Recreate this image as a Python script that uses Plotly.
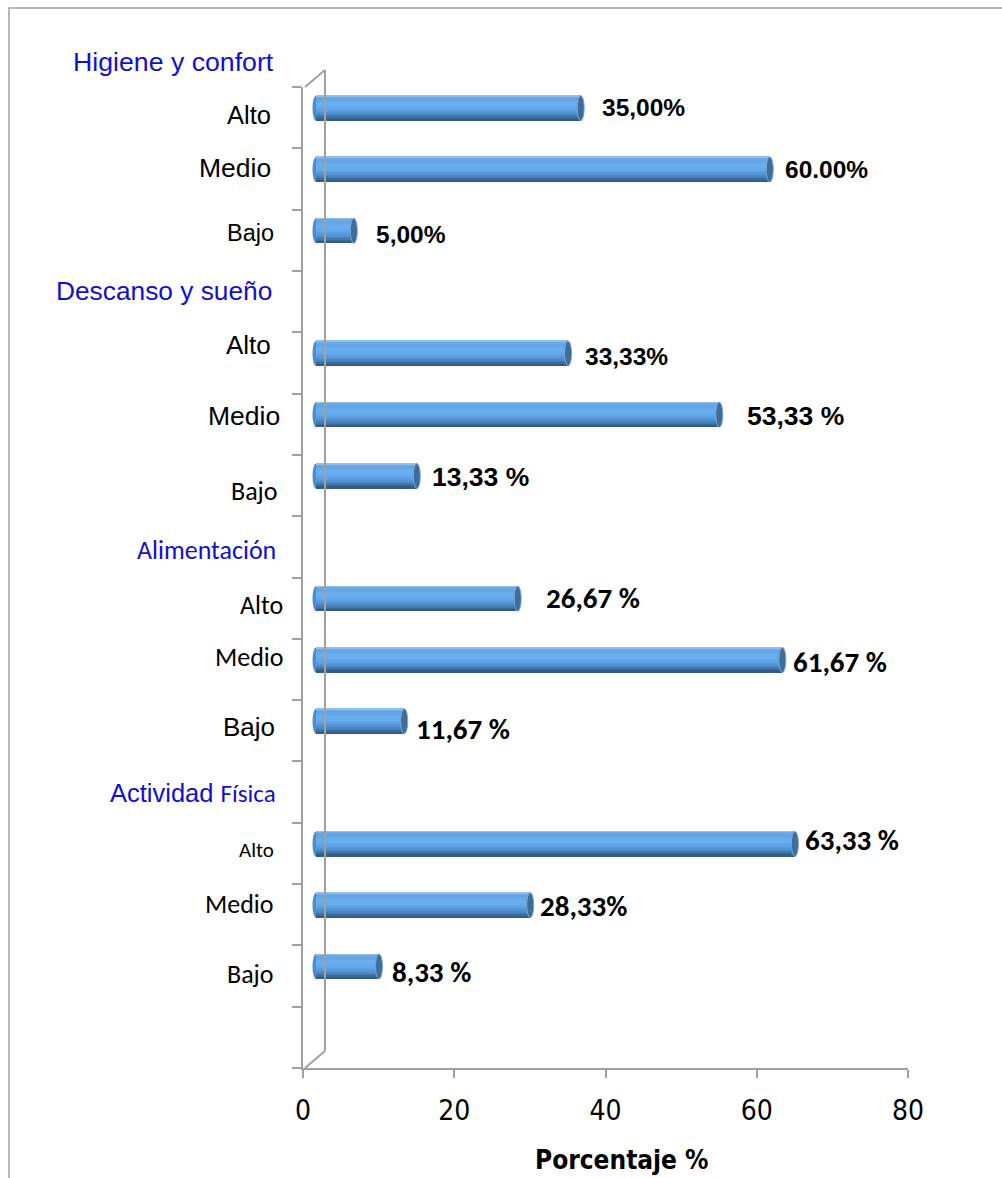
import plotly.graph_objects as go
import numpy as np

# ---------------- data ----------------
groups = ["Higiene y confort", "Descanso y sueño", "Alimentación", "Actividad Física"]
levels = ["Alto", "Medio", "Bajo"]
higiene = [35.00, 60.00, 5.00]
descanso = [33.33, 53.33, 13.33]
alimentacion = [26.67, 61.67, 11.67]
actividad = [63.33, 28.33, 8.33]
higiene_txt = ["35,00%", "60.00%", "5,00%"]
descanso_txt = ["33,33%", "53,33 %", "13,33 %"]
alimentacion_txt = ["26,67 %", "61,67 %", "11,67 %"]
actividad_txt = ["63,33 %", "28,33%", "8,33 %"]
x_ticks = [0, 20, 40, 60, 80]
x_title = "Porcentaje %"

series = [higiene, descanso, alimentacion, actividad]
series_txt = [higiene_txt, descanso_txt, alimentacion_txt, actividad_txt]

# ---------------- geometry / style ----------------
W, H = 1002, 1178
L, R, T, B = 303, 908, 87, 1068
XMAX = 80
NROWS = 16
PXX = (R - L) / XMAX
PXY = (B - T) / NROWS

def px2paper_x(px):
    return (px - L) / (R - L)

def px2paper_y(py):
    return (B - py) / (B - T)

def row_px(r):
    return T + (r + 0.5) * PXY

BASE = 13 / PXX          # 3D offset of bar start
CAP = 3.5 / PXX          # half width of elliptical cap
THICK = 25 / PXY         # bar thickness
DYC = -9.5 / PXY         # 3D vertical shift of bars

ARIAL = "Arial, Liberation Sans, sans-serif"
CALIBRI = "Carlito, Lato, sans-serif"
NARROW = "Liberation Sans Narrow, Arial Narrow, DejaVu Sans Condensed, Arial"
BLUE = "#1010CC"
GRAY = "#A0A0A0"

# category label styles per row (family, size, right edge px, dy px)
title_style = [
    (ARIAL, 26.7, 276, 6),
    (ARIAL, 26.3, 274, -11),
    (CALIBRI, 26, 278, 3),
    (ARIAL, 25.5, 278, 1),
]
level_style = [
    [(ARIAL, 25.5, 273, -3), (ARIAL, 26.5, 273, -11), (ARIAL, 23.5, 276, -7)],
    [(ARIAL, 26, 273, -18), (ARIAL, 26.5, 282, -8), (CALIBRI, 26, 280, 5)],
    [(CALIBRI, 26, 285, -3), (CALIBRI, 26, 286, -12), (ARIAL, 26, 277, -4)],
    [(CALIBRI, 21, 276, -3), (CALIBRI, 26, 276, -11), (CALIBRI, 26, 276, -2)],
]
value_font = [ARIAL, ARIAL, CALIBRI, CALIBRI]
value_size = [[24.5, 24.5, 24.5], [24.5, 26.5, 26.5], [29, 29, 29], [29, 29, 29]]
value_gap = [[16, 10, 17], [11, 22, 10], [23, 5, 6], [5, 4, 7]]
value_dy = [[-1, 0, 4], [3, 1, 1], [-1, 2, 8], [-4, 1, 5]]

# gradient stops for cylinder shading (top -> bottom)
stops = [(0.0, (160, 202, 240)), (0.12, (96, 160, 224)), (0.35, (106, 176, 240)),
         (0.55, (98, 166, 234)), (0.75, (80, 142, 207)), (0.9, (60, 108, 158)),
         (1.0, (44, 84, 125))]

def grad(t):
    for (t0, c0), (t1, c1) in zip(stops[:-1], stops[1:]):
        if t0 <= t <= t1:
            f = (t - t0) / (t1 - t0) if t1 > t0 else 0
            c = [round(a + (b - a) * f) for a, b in zip(c0, c1)]
            return "rgb(%d,%d,%d)" % tuple(c)
    return "rgb(%d,%d,%d)" % stops[-1][1]

# ---------------- build rows ----------------
rows, vals = [], []
for g, vs in enumerate(series):
    for k, v in enumerate(vs):
        rows.append(4 * g + k)
        vals.append(v)
rows = np.array(rows, dtype=float)
vals = np.array(vals, dtype=float)

fig = go.Figure()

NS = 16
w = THICK / NS
for s in range(NS):
    t = (s + 0.5) / NS
    fig.add_trace(go.Bar(
        y=rows, x=vals, base=BASE, orientation="h",
        width=w * 1.08, offset=DYC - THICK / 2 + s * w,
        marker=dict(color=grad(t), line=dict(width=0)),
        showlegend=False, hoverinfo="skip",
    ))

shapes = []
for r, v in zip(rows, vals):
    yc = r + DYC
    shapes.append(dict(type="circle", xref="x", yref="y", layer="below",
                       x0=BASE - CAP, x1=BASE + CAP, y0=yc - THICK / 2, y1=yc + THICK / 2,
                       fillcolor="rgb(80,140,200)", line=dict(width=0)))
    shapes.append(dict(type="circle", xref="x", yref="y", layer="above",
                       x0=BASE + v - CAP, x1=BASE + v + CAP, y0=yc - THICK / 2, y1=yc + THICK / 2,
                       fillcolor="rgb(62,108,155)", line=dict(width=1, color="rgb(120,165,210)")))

# 3D wall outline
wall = [((305, T), (325, T - 17)), ((325, T - 17), (325, B - 17)), ((325, B - 17), (305, B))]
for (xa, ya), (xb, yb) in wall:
    shapes.append(dict(type="line", xref="paper", yref="paper",
                       x0=px2paper_x(xa), y0=px2paper_y(ya), x1=px2paper_x(xb), y1=px2paper_y(yb),
                       line=dict(color=GRAY, width=2)))
# outer chart border
shapes.append(dict(type="rect", xref="paper", yref="paper",
                   x0=px2paper_x(9), y0=px2paper_y(8), x1=px2paper_x(1012), y1=px2paper_y(1190),
                   line=dict(color=GRAY, width=1.5), fillcolor="rgba(0,0,0,0)", layer="below"))

annotations = []
for g, name in enumerate(groups):
    fam, size, rpx, dy = title_style[g]
    text = name
    if name == "Actividad Física":
        text = 'Actividad <span style="font-family:Carlito, Lato;font-size:25px">Física</span>'
    annotations.append(dict(text=text, xref="paper", yref="paper", x=px2paper_x(rpx),
                            y=px2paper_y(row_px(4 * g - 1) + dy), xanchor="right", yanchor="middle",
                            showarrow=False, font=dict(family=fam, size=size, color=BLUE)))
    for k, lev in enumerate(levels):
        fam, size, rpx, dy = level_style[g][k]
        annotations.append(dict(text=lev, xref="paper", yref="paper", x=px2paper_x(rpx),
                                y=px2paper_y(row_px(4 * g + k) + dy), xanchor="right", yanchor="middle",
                                showarrow=False, font=dict(family=fam, size=size, color="black")))
        v = series[g][k]
        annotations.append(dict(text="<b>%s</b>" % series_txt[g][k], xref="x", yref="y",
                                x=BASE + v + CAP + value_gap[g][k] / PXX,
                                y=4 * g + k + DYC + value_dy[g][k] / PXY,
                                xanchor="left", yanchor="middle", showarrow=False,
                                font=dict(family=value_font[g], size=value_size[g][k], color="black")))

annotations.append(dict(text="<b>%s</b>" % x_title, xref="paper", yref="paper",
                        x=px2paper_x(622), y=px2paper_y(1160), xanchor="center", yanchor="middle",
                        showarrow=False,
                        font=dict(family=NARROW, size=26, color="black")))

fig.update_layout(
    width=W, height=H,
    margin=dict(l=L, r=W - R, t=T, b=H - B, pad=0),
    paper_bgcolor="white", plot_bgcolor="white",
    barmode="overlay", bargap=0,
    shapes=shapes, annotations=annotations,
    xaxis=dict(range=[0, XMAX], tickvals=x_ticks, ticks="outside", ticklen=8,
               tickcolor=GRAY, tickwidth=1.5, showline=True, linecolor=GRAY, linewidth=2,
               showgrid=False, zeroline=False, ticklabelstandoff=8,
               tickfont=dict(family=NARROW, size=28, color="black")),
    yaxis=dict(range=[NROWS - 0.5, -0.5], tickvals=[i - 0.5 for i in range(NROWS + 1)],
               ticktext=[""] * (NROWS + 1), ticks="outside", ticklen=9, tickcolor=GRAY,
               tickwidth=1.5, showline=True, linecolor=GRAY, linewidth=2,
               showgrid=False, zeroline=False),
)

fig.write_html("out.html")
